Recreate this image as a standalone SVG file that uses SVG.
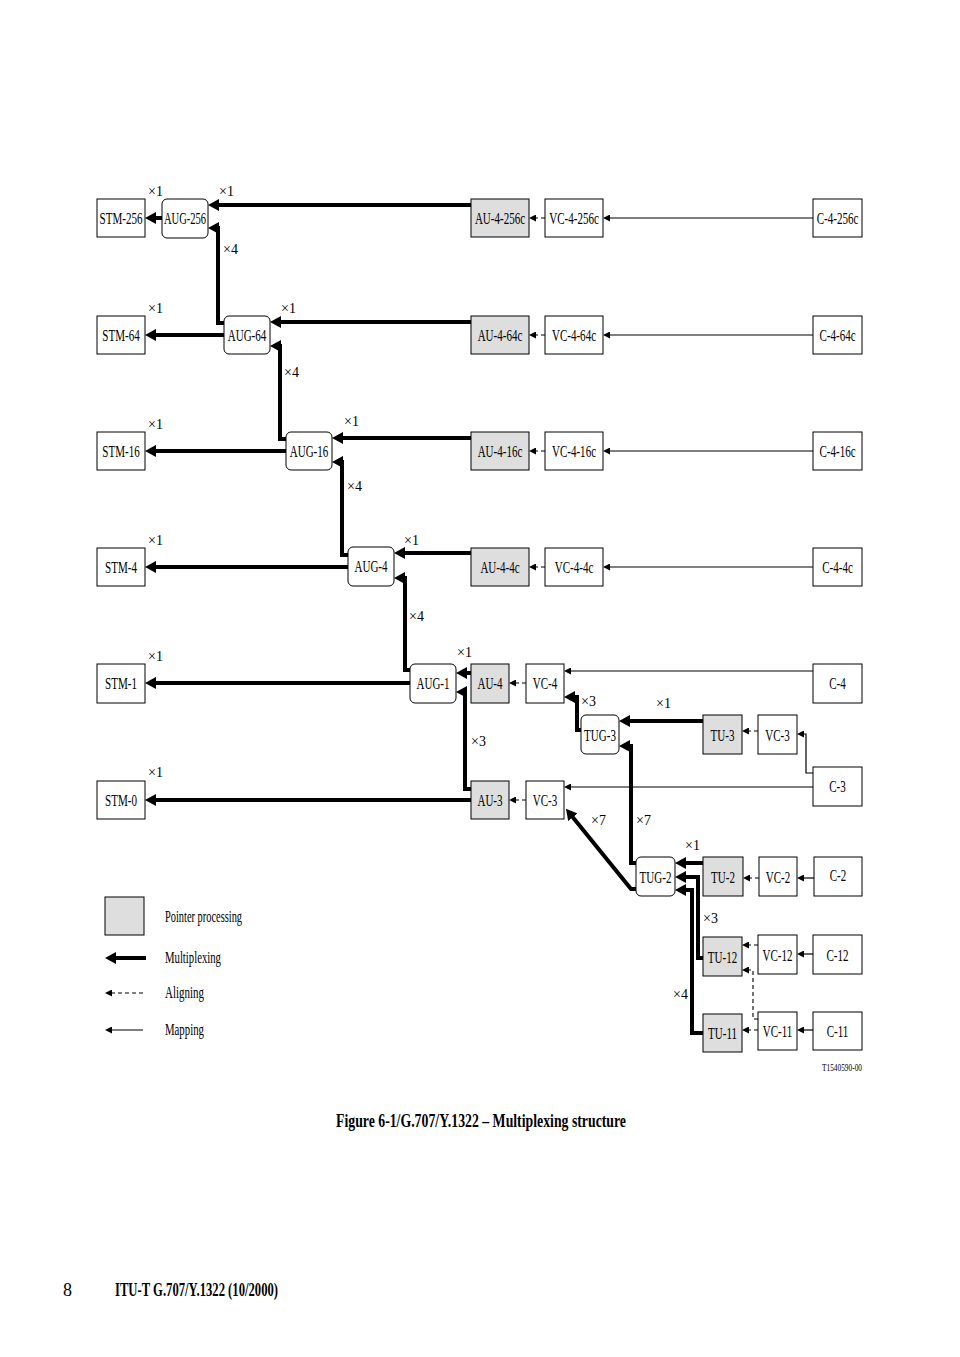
<svg xmlns="http://www.w3.org/2000/svg" width="960" height="1357" viewBox="0 0 960 1357">
<style>
.box{fill:#fff;stroke:#000;stroke-width:1}
.pp{fill:#dedede;stroke:#000;stroke-width:1}
.lbl{font-family:"Liberation Serif",serif;font-size:16px;text-anchor:middle;fill:#000}
.mul{font-family:"Liberation Serif",serif;font-size:14px;fill:#000}
.leg{font-family:"Liberation Serif",serif;font-size:16px;fill:#000}
.mux{fill:none;stroke:#000;stroke-width:4;stroke-linejoin:miter;marker-end:url(#ah)}
.map{fill:none;stroke:#000;stroke-width:1.2;marker-end:url(#as)}
.aln{fill:none;stroke:#000;stroke-width:1.1;stroke-dasharray:4 3;marker-end:url(#as)}
</style>
<defs>
<marker id="ah" markerUnits="userSpaceOnUse" viewBox="0 0 11 12" markerWidth="11" markerHeight="12" refX="3" refY="6" orient="auto"><path d="M0,0 L11,6 L0,12 z" fill="#000"/></marker>
<marker id="as" markerUnits="userSpaceOnUse" viewBox="0 0 7 7" markerWidth="7" markerHeight="7" refX="2" refY="3.5" orient="auto"><path d="M0,0 L7,3.5 L0,7 z" fill="#000"/></marker>
</defs>
<rect width="960" height="1357" fill="#fff"/>

<g id="connectors">
<!-- row 1 -->
<path class="map" d="M813 218 H608"/>
<path class="aln" d="M545 218 H534"/>
<path class="mux" d="M471 205 H216"/>
<path class="mux" d="M162 218 H153"/>
<path class="mux" d="M224 323 H218 V228 H216"/>
<!-- row 2 -->
<path class="map" d="M813 335 H608"/>
<path class="aln" d="M545 335 H534"/>
<path class="mux" d="M471 322 H278"/>
<path class="mux" d="M224 335 H153"/>
<path class="mux" d="M286 439 H280 V346 H278"/>
<!-- row 3 -->
<path class="map" d="M813 451 H608"/>
<path class="aln" d="M545 451 H534"/>
<path class="mux" d="M471 438 H340"/>
<path class="mux" d="M286 451 H153"/>
<path class="mux" d="M348 555 H342 V462 H340"/>
<!-- row 4 -->
<path class="map" d="M813 567 H608"/>
<path class="aln" d="M545 567 H534"/>
<path class="mux" d="M471 553 H402"/>
<path class="mux" d="M348 567 H153"/>
<path class="mux" d="M410 670 H405 V578 H402"/>
<!-- row 5 -->
<path class="map" d="M813 671 H569"/>
<path class="aln" d="M526 683 H514"/>
<path class="mux" d="M471 673 H464"/>
<path class="mux" d="M410 683 H153"/>
<path class="mux" d="M471 789 H465 V692 H464"/>
<path class="mux" d="M581 730 H577 V697 H572"/>
<path class="mux" d="M703 721 H627"/>
<path class="aln" d="M758 731 H747"/>
<path class="map" d="M813 773 H806 V734 H802"/>
<path class="map" d="M813 787 H569"/>
<!-- row 6 -->
<path class="aln" d="M526 800 H514"/>
<path class="mux" d="M471 800 H153"/>
<path class="mux" d="M636 863 H631 V746 H627"/>
<path class="mux" d="M636 889 H631 L571 815"/>
<path class="mux" d="M703 863 H683"/>
<path class="mux" d="M703 958 H698 V877 H683"/>
<path class="mux" d="M703 1033 H692 V890 H683"/>
<path class="aln" d="M759 878 H748"/>
<path class="map" d="M814 878 H802"/>
<path class="aln" d="M758 945 H747"/>
<path class="map" d="M813 954 H802"/>
<path class="aln" d="M758 1019 H753 V970 H747"/>
<path class="aln" d="M758 1030 H747"/>
<path class="map" d="M813 1030 H802"/>
</g>

<g id="multipliers">
<text class="mul" x="148" y="196">×1</text>
<text class="mul" x="219" y="196">×1</text>
<text class="mul" x="223" y="254">×4</text>
<text class="mul" x="148" y="313">×1</text>
<text class="mul" x="281" y="313">×1</text>
<text class="mul" x="284" y="377">×4</text>
<text class="mul" x="148" y="429">×1</text>
<text class="mul" x="344" y="426">×1</text>
<text class="mul" x="347" y="491">×4</text>
<text class="mul" x="148" y="545">×1</text>
<text class="mul" x="404" y="545">×1</text>
<text class="mul" x="409" y="621">×4</text>
<text class="mul" x="148" y="661">×1</text>
<text class="mul" x="457" y="657">×1</text>
<text class="mul" x="581" y="706">×3</text>
<text class="mul" x="656" y="708">×1</text>
<text class="mul" x="471" y="746">×3</text>
<text class="mul" x="148" y="777">×1</text>
<text class="mul" x="591" y="825">×7</text>
<text class="mul" x="636" y="825">×7</text>
<text class="mul" x="685" y="850">×1</text>
<text class="mul" x="703" y="923">×3</text>
<text class="mul" x="673" y="999">×4</text>
</g>

<g id="n-stm256"><rect class="box" x="97" y="199" width="48" height="38"/><text class="lbl" transform="translate(121 223.5) scale(0.69 1)">STM-256</text></g>
<g id="n-aug256"><rect class="box" x="162" y="199" width="46" height="39" rx="5"/><text class="lbl" transform="translate(185 224) scale(0.66 1)">AUG-256</text></g>
<g id="n-au4256c"><rect class="pp" x="471" y="199" width="58" height="38"/><text class="lbl" transform="translate(500 223.5) scale(0.69 1)">AU-4-256c</text></g>
<g id="n-vc4256c"><rect class="box" x="545" y="199" width="58" height="38"/><text class="lbl" transform="translate(574 223.5) scale(0.69 1)">VC-4-256c</text></g>
<g id="n-c4256c"><rect class="box" x="813" y="199" width="49" height="38"/><text class="lbl" transform="translate(837.5 223.5) scale(0.69 1)">C-4-256c</text></g>

<g id="n-stm64"><rect class="box" x="97" y="316" width="48" height="38"/><text class="lbl" transform="translate(121 340.5) scale(0.69 1)">STM-64</text></g>
<g id="n-aug64"><rect class="box" x="224" y="316" width="46" height="38" rx="5"/><text class="lbl" transform="translate(247 340.5) scale(0.69 1)">AUG-64</text></g>
<g id="n-au464c"><rect class="pp" x="471" y="316" width="58" height="38"/><text class="lbl" transform="translate(500 340.5) scale(0.69 1)">AU-4-64c</text></g>
<g id="n-vc464c"><rect class="box" x="545" y="316" width="58" height="38"/><text class="lbl" transform="translate(574 340.5) scale(0.69 1)">VC-4-64c</text></g>
<g id="n-c464c"><rect class="box" x="813" y="316" width="49" height="38"/><text class="lbl" transform="translate(837.5 340.5) scale(0.69 1)">C-4-64c</text></g>

<g id="n-stm16"><rect class="box" x="97" y="432" width="48" height="38"/><text class="lbl" transform="translate(121 456.5) scale(0.69 1)">STM-16</text></g>
<g id="n-aug16"><rect class="box" x="286" y="432" width="46" height="38" rx="5"/><text class="lbl" transform="translate(309 456.5) scale(0.69 1)">AUG-16</text></g>
<g id="n-au416c"><rect class="pp" x="471" y="432" width="58" height="38"/><text class="lbl" transform="translate(500 456.5) scale(0.69 1)">AU-4-16c</text></g>
<g id="n-vc416c"><rect class="box" x="545" y="432" width="58" height="38"/><text class="lbl" transform="translate(574 456.5) scale(0.69 1)">VC-4-16c</text></g>
<g id="n-c416c"><rect class="box" x="813" y="432" width="49" height="38"/><text class="lbl" transform="translate(837.5 456.5) scale(0.69 1)">C-4-16c</text></g>

<g id="n-stm4"><rect class="box" x="97" y="548" width="48" height="38"/><text class="lbl" transform="translate(121 572.5) scale(0.69 1)">STM-4</text></g>
<g id="n-aug4"><rect class="box" x="348" y="547" width="46" height="39" rx="5"/><text class="lbl" transform="translate(371 571.5) scale(0.69 1)">AUG-4</text></g>
<g id="n-au44c"><rect class="pp" x="471" y="548" width="58" height="38"/><text class="lbl" transform="translate(500 572.5) scale(0.69 1)">AU-4-4c</text></g>
<g id="n-vc44c"><rect class="box" x="545" y="548" width="58" height="38"/><text class="lbl" transform="translate(574 572.5) scale(0.69 1)">VC-4-4c</text></g>
<g id="n-c44c"><rect class="box" x="813" y="548" width="49" height="38"/><text class="lbl" transform="translate(837.5 572.5) scale(0.69 1)">C-4-4c</text></g>

<g id="n-stm1"><rect class="box" x="97" y="664" width="48" height="39"/><text class="lbl" transform="translate(121 689) scale(0.69 1)">STM-1</text></g>
<g id="n-aug1"><rect class="box" x="410" y="664" width="46" height="39" rx="5"/><text class="lbl" transform="translate(433 689) scale(0.69 1)">AUG-1</text></g>
<g id="n-au4"><rect class="pp" x="471" y="664" width="38" height="39"/><text class="lbl" transform="translate(490 689) scale(0.69 1)">AU-4</text></g>
<g id="n-vc4"><rect class="box" x="526" y="664" width="38" height="39"/><text class="lbl" transform="translate(545 689) scale(0.69 1)">VC-4</text></g>
<g id="n-c4"><rect class="box" x="813" y="664" width="49" height="39"/><text class="lbl" transform="translate(837.5 689) scale(0.69 1)">C-4</text></g>

<g id="n-tug3"><rect class="box" x="581" y="715" width="38" height="39" rx="5"/><text class="lbl" transform="translate(600 740.5) scale(0.69 1)">TUG-3</text></g>
<g id="n-tu3"><rect class="pp" x="703" y="715" width="39" height="39"/><text class="lbl" transform="translate(722.5 740.5) scale(0.69 1)">TU-3</text></g>
<g id="n-vc3a"><rect class="box" x="758" y="715" width="39" height="39"/><text class="lbl" transform="translate(777.5 740.5) scale(0.69 1)">VC-3</text></g>
<g id="n-c3"><rect class="box" x="813" y="767" width="49" height="39"/><text class="lbl" transform="translate(837.5 792) scale(0.69 1)">C-3</text></g>

<g id="n-stm0"><rect class="box" x="97" y="781" width="48" height="38"/><text class="lbl" transform="translate(121 805.5) scale(0.69 1)">STM-0</text></g>
<g id="n-au3"><rect class="pp" x="471" y="781" width="38" height="38"/><text class="lbl" transform="translate(490 805.5) scale(0.69 1)">AU-3</text></g>
<g id="n-vc3b"><rect class="box" x="526" y="781" width="38" height="38"/><text class="lbl" transform="translate(545 805.5) scale(0.69 1)">VC-3</text></g>

<g id="n-tug2"><rect class="box" x="636" y="857" width="39" height="39" rx="5"/><text class="lbl" transform="translate(655.5 882.5) scale(0.69 1)">TUG-2</text></g>
<g id="n-tu2"><rect class="pp" x="703" y="857" width="40" height="39"/><text class="lbl" transform="translate(723 882.5) scale(0.69 1)">TU-2</text></g>
<g id="n-vc2"><rect class="box" x="759" y="857" width="38" height="39"/><text class="lbl" transform="translate(778 882.5) scale(0.69 1)">VC-2</text></g>
<g id="n-c2"><rect class="box" x="814" y="857" width="48" height="39"/><text class="lbl" transform="translate(838 880.5) scale(0.69 1)">C-2</text></g>

<g id="n-tu12"><rect class="pp" x="703" y="937" width="39" height="39"/><text class="lbl" transform="translate(722.5 962.5) scale(0.69 1)">TU-12</text></g>
<g id="n-vc12"><rect class="box" x="758" y="935" width="39" height="39"/><text class="lbl" transform="translate(777.5 960.5) scale(0.69 1)">VC-12</text></g>
<g id="n-c12"><rect class="box" x="813" y="935" width="49" height="39"/><text class="lbl" transform="translate(837.5 960.5) scale(0.69 1)">C-12</text></g>

<g id="n-tu11"><rect class="pp" x="703" y="1014" width="39" height="38"/><text class="lbl" transform="translate(722.5 1038.5) scale(0.69 1)">TU-11</text></g>
<g id="n-vc11"><rect class="box" x="758" y="1012" width="39" height="38"/><text class="lbl" transform="translate(777.5 1036.5) scale(0.69 1)">VC-11</text></g>
<g id="n-c11"><rect class="box" x="813" y="1012" width="49" height="38"/><text class="lbl" transform="translate(837.5 1036.5) scale(0.69 1)">C-11</text></g>

<text id="ref-code" x="862" y="1071" font-family="Liberation Serif, serif" font-size="10" text-anchor="end" textLength="40" lengthAdjust="spacingAndGlyphs">T1540590-00</text>

<g id="legend">
<rect class="pp" x="105" y="897" width="39" height="38"/>
<text class="leg" transform="translate(165 921.5) scale(0.65 1)">Pointer processing</text>
<path class="mux" d="M146 958 H113"/>
<text class="leg" transform="translate(165 962.5) scale(0.67 1)">Multiplexing</text>
<path class="aln" d="M143 993 H110"/>
<text class="leg" transform="translate(165 997.5) scale(0.685 1)">Aligning</text>
<path class="map" d="M143 1030 H110"/>
<text class="leg" transform="translate(165 1034.5) scale(0.675 1)">Mapping</text>
</g>

<text id="caption" x="336" y="1127" font-family="Liberation Serif, serif" font-size="18" font-weight="bold" textLength="290" lengthAdjust="spacingAndGlyphs">Figure 6-1/G.707/Y.1322 – Multiplexing structure</text>
<text id="page" x="63" y="1296" font-family="Liberation Serif, serif" font-size="18">8</text>
<text id="footer" x="115" y="1296" font-family="Liberation Serif, serif" font-size="18" font-weight="bold" textLength="163" lengthAdjust="spacingAndGlyphs">ITU-T G.707/Y.1322 (10/2000)</text>
</svg>
